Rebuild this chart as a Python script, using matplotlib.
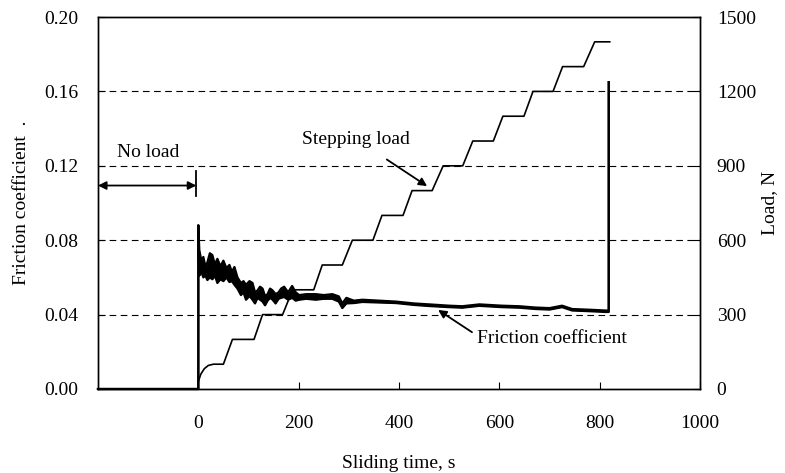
import matplotlib
matplotlib.use("Agg")
import matplotlib.pyplot as plt
import numpy as np

plt.rcParams['font.family'] = ['Liberation Serif', 'DejaVu Serif']
plt.rcParams['font.size'] = 14

# friction coefficient, read as upper / lower edge of the plotted trace
fric_t = [-200, 0, 0, 2, 6, 10, 14, 18, 23, 28, 33, 38, 44, 50, 56, 62, 67, 72, 78, 85, 90,
          95, 102, 108, 113, 118, 123, 128, 133, 138, 143, 148, 154, 160, 165, 171, 179, 187,
          194, 201, 215, 234, 250, 267, 280, 287, 295, 310, 327, 360, 394, 430, 460,
          500, 526, 560, 605, 640, 672, 700, 725, 745, 764, 790, 812, 818, 818]
fric_hi = [0, 0, 0.088, 0.0747, 0.069, 0.071, 0.066, 0.068, 0.073, 0.072, 0.067, 0.070, 0.066,
           0.069, 0.065, 0.0667, 0.063, 0.0656, 0.060, 0.057, 0.058, 0.056, 0.058, 0.057,
           0.052, 0.053, 0.055, 0.054, 0.050, 0.051, 0.054, 0.053, 0.051, 0.052, 0.054,
           0.055, 0.052, 0.0554, 0.052, 0.0505, 0.051, 0.051, 0.0505, 0.051, 0.0498, 0.046,
           0.049, 0.0475, 0.048, 0.0475, 0.047, 0.046, 0.0455, 0.0448, 0.0445, 0.0455,
           0.0448, 0.0445, 0.0438, 0.0435, 0.0448, 0.043, 0.0428, 0.0425, 0.0422, 0.0422,
           0.165]
fric_lo = [0, 0, 0.088, 0.061, 0.063, 0.060, 0.061, 0.0586, 0.060, 0.059, 0.061, 0.057, 0.059,
           0.058, 0.060, 0.0575, 0.058, 0.056, 0.054, 0.0505, 0.052, 0.048, 0.050, 0.048,
           0.046, 0.049, 0.048, 0.047, 0.045, 0.0475, 0.049, 0.048, 0.046, 0.0485, 0.049,
           0.0495, 0.048, 0.049, 0.0475, 0.048, 0.0485, 0.048, 0.0485, 0.0485, 0.047,
           0.0435, 0.046, 0.0462, 0.0468, 0.0465, 0.0462, 0.0452, 0.0446, 0.044, 0.0437,
           0.0447, 0.044, 0.0437, 0.043, 0.0427, 0.044, 0.0422, 0.042, 0.0417, 0.0414,
           0.0414, 0.165]

# stepping load
load_t = [0, 5, 12, 20, 30, 50, 68, 111, 128, 168, 188, 230, 247, 287, 307, 348, 366, 408,
          426, 466, 488, 527, 547, 588, 607, 649, 667, 707, 726, 768, 790, 820]
load_n = [30, 60, 82, 95, 100, 100, 200, 200, 300, 300, 400, 400, 500, 500, 600, 600, 700,
          700, 800, 800, 900, 900, 1000, 1000, 1100, 1100, 1200, 1200, 1300, 1300, 1400, 1400]

fig = plt.figure(figsize=(7.85, 4.73), dpi=100)
ax = fig.add_axes([0.1248, 0.1776, 0.767, 0.7864])
ax2 = ax.twinx()

ax.set_xlim(-200, 1000)
ax.set_ylim(0, 0.2)
ax2.set_ylim(0, 1500)

ax.set_xticks([0, 200, 400, 600, 800, 1000])
ax.set_yticks(np.arange(0, 0.201, 0.04))
ax.set_yticklabels([f"{v:.2f}" for v in np.arange(0, 0.201, 0.04)])
ax2.set_yticks(np.arange(0, 1501, 300))

for g in [0.04, 0.08, 0.12, 0.16]:
    ax.axhline(g, color='black', lw=0.8, ls=(0, (6, 4)), zorder=1)

ax.fill_between(fric_t, fric_lo, fric_hi, color='black', lw=0, zorder=3)
ax.plot(fric_t, fric_hi, color='black', lw=1.6, zorder=3, clip_on=False)
ax.plot(fric_t, fric_lo, color='black', lw=1.6, zorder=3, clip_on=False)
ax2.plot(load_t, load_n, color='black', lw=1.2)

ax.tick_params(axis='both', direction='in', length=5, width=0.8)
ax.tick_params(axis='x', pad=19)
ax.tick_params(axis='y', pad=14)
ax2.tick_params(axis='y', direction='in', length=5, width=0.8, pad=12)
for a in (ax, ax2):
    for s in a.spines.values():
        s.set_linewidth(1.0)

ax.set_xlabel("Sliding time, s", labelpad=16)
ax.set_ylabel("Friction coefficient  .", labelpad=10)
ax2.set_ylabel("Load, N", labelpad=4)

# annotations
ax.annotate("", xy=(-200, 0.1094), xytext=(-4, 0.1094),
            arrowprops=dict(arrowstyle='<|-|>', color='black', lw=1.3,
                            mutation_scale=12, shrinkA=0, shrinkB=0))
ax.plot([-4, -4], [0.104, 0.117], color='black', lw=1.3)
ax.text(-100, 0.127, "No load", ha='center', va='center')

ax2.annotate("Stepping load", xy=(456, 818), xytext=(314, 1008),
             ha='center', va='center',
             arrowprops=dict(arrowstyle='-|>', color='black', lw=1.3,
                             mutation_scale=12, shrinkA=12, shrinkB=0))
ax.annotate("Friction coefficient", xy=(478, 0.0425), xytext=(705, 0.0269),
            ha='center', va='center',
            arrowprops=dict(arrowstyle='-|>', color='black', lw=1.3,
                            mutation_scale=12, shrinkA=2, shrinkB=0,
                            relpos=(0, 0.7)))

fig.savefig("out.png", dpi=100)
